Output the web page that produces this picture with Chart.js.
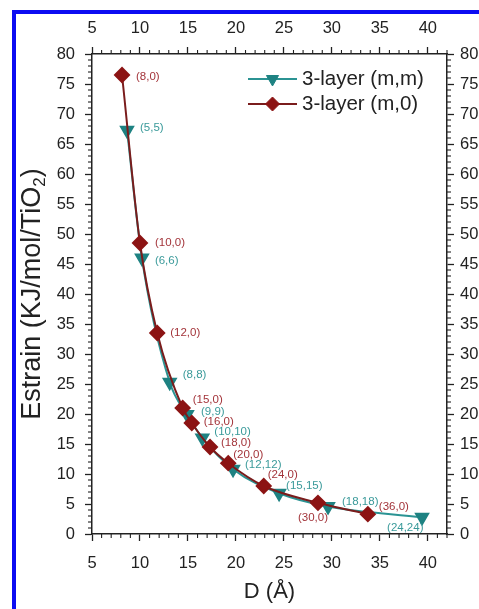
<!DOCTYPE html>
<html>
<head>
<meta charset="utf-8">
<script src="https://cdn.jsdelivr.net/npm/chart.js@4.4.1/dist/chart.umd.min.js"></script>
<style>
  html, body { margin: 0; padding: 0; background: #fff; overflow: hidden; }
  #wrap { position: relative; width: 479px; height: 609px; }
  canvas { position: absolute; left: 0; top: 0; }
  #frame { position: absolute; left: 12px; top: 10px; width: 480px; height: 620px;
           border-top: 4px solid #0c0cf2; border-left: 4px solid #0c0cf2; pointer-events: none; }
</style>
</head>
<body>
<div id="wrap">
  <canvas id="c" width="479" height="609"></canvas>
  <div id="frame"></div>
</div>
<script>
// 3-layer (m,m) nanotubes
const mmLabels = ['(5,5)', '(6,6)', '(8,8)', '(9,9)', '(10,10)', '(12,12)', '(15,15)', '(18,18)', '(24,24)'];
const mmD = [8.65, 10.2, 13.1, 14.9, 16.5, 19.7, 24.5, 29.6, 39.4];
const mmE = [67.3, 46.0, 25.3, 19.9, 16.0, 10.8, 6.8, 4.6, 2.8];

// 3-layer (m,0) nanotubes
const m0Labels = ['(8,0)', '(10,0)', '(12,0)', '(15,0)', '(16,0)', '(18,0)', '(20,0)', '(24,0)', '(30,0)', '(36,0)'];
const m0D = [8.13, 10.0, 11.8, 14.45, 15.4, 17.3, 19.2, 22.9, 28.55, 33.75];
const m0E = [76.5, 48.5, 33.5, 21.0, 18.5, 14.5, 11.8, 8.0, 5.2, 3.3];

const seriesNames = ['3-layer (m,m)', '3-layer (m,0)'];
const xRange = [5, 42];
const yRange = [0, 80];

const FONT = 'Arial, "Liberation Sans", sans-serif';
const INK = '#222';

// label offsets from the marker (px), same order as the label arrays
const mmOffsets = [[13, -2], [13, 3], [13, -7], [14, -3], [12, -6], [12, -4], [7, -7], [14, -5], [-35, 11]];
const m0Offsets = [[14, 2], [15, 0], [13, 0], [10, -8], [12, -1], [11, -4], [5, -8], [4, -11], [-20, 15], [11, -7]];

function pts(xs, ys) {
  return xs.map((x, i) => ({ x, y: ys[i] }));
}

function axis(position, range, fitSize, pad) {
  const horizontal = position === 'top' || position === 'bottom';
  return {
    type: 'linear',
    position,
    min: range[0],
    max: range[1],
    ticks: { stepSize: 5, includeBounds: false, color: INK, font: { family: FONT, size: 16.5 }, padding: pad },
    grid: { drawOnChartArea: false, tickLength: 7, tickColor: INK, tickWidth: 1.3 },
    border: { display: true, color: INK, width: 1.5 },
    afterBuildTicks(s) { s.ticks = s.ticks.filter(t => t.value % 5 === 0); },
    afterFit(s) { if (horizontal) s.height = fitSize; else s.width = fitSize; },
  };
}

const extras = {
  id: 'extras',
  afterDraw(chart) {
    const ctx = chart.ctx;
    const a = chart.chartArea;
    ctx.save();

    // minor ticks every 1 unit
    ctx.strokeStyle = INK;
    ctx.lineWidth = 1.1;
    ['x', 'x2', 'y', 'y2'].forEach(id => {
      const s = chart.scales[id];
      for (let v = Math.ceil(s.min); v <= s.max; v++) {
        if (v % 5 === 0) continue;
        const p = s.getPixelForValue(v);
        ctx.beginPath();
        if (id === 'x') { ctx.moveTo(p, a.bottom); ctx.lineTo(p, a.bottom + 4); }
        if (id === 'x2') { ctx.moveTo(p, a.top); ctx.lineTo(p, a.top - 4); }
        if (id === 'y') { ctx.moveTo(a.left, p); ctx.lineTo(a.left - 4, p); }
        if (id === 'y2') { ctx.moveTo(a.right, p); ctx.lineTo(a.right + 4, p); }
        ctx.stroke();
      }
    });

    // point labels
    ctx.font = '11.5px ' + FONT;
    ctx.textAlign = 'left';
    ctx.textBaseline = 'middle';
    const sets = [[mmLabels, mmOffsets, '#3a9a9a'], [m0Labels, m0Offsets, '#a3343a']];
    sets.forEach(([labels, offs, col], di) => {
      const meta = chart.getDatasetMeta(di);
      ctx.fillStyle = col;
      meta.data.forEach((el, j) => {
        ctx.fillText(labels[j], el.x + offs[j][0], el.y + offs[j][1]);
      });
    });

    // legend
    const rows = [79, 104];
    chart.data.datasets.forEach((ds, i) => {
      const y = rows[i];
      ctx.strokeStyle = ds.borderColor;
      ctx.lineWidth = 2;
      ctx.beginPath();
      ctx.moveTo(248, y);
      ctx.lineTo(297, y);
      ctx.stroke();
      ctx.fillStyle = ds.pointBackgroundColor;
      ctx.strokeStyle = ds.pointBorderColor;
      ctx.lineWidth = 1;
      Chart.helpers.drawPoint(ctx, { pointStyle: ds.pointStyle, rotation: ds.pointRotation || 0, radius: ds.pointRadius, borderWidth: 1 }, 272.5, y);
      ctx.fillStyle = INK;
      ctx.font = '20.5px ' + FONT;
      ctx.textAlign = 'left';
      ctx.textBaseline = 'middle';
      ctx.fillText(seriesNames[i], 302, y);
    });

    // x title
    ctx.fillStyle = INK;
    ctx.font = '22px ' + FONT;
    ctx.textAlign = 'center';
    ctx.textBaseline = 'middle';
    ctx.fillText('D (\u00c5)', (a.left + a.right) / 2, 592);

    // y title with subscript
    ctx.translate(31, (a.top + a.bottom) / 2);
    ctx.rotate(-Math.PI / 2);
    ctx.textAlign = 'left';
    ctx.textBaseline = 'alphabetic';
    const p1 = 'Estrain (KJ/mol/TiO', p2 = '2', p3 = ')';
    ctx.font = '27px ' + FONT;
    const w1 = ctx.measureText(p1).width, w3 = ctx.measureText(p3).width;
    ctx.font = '17px ' + FONT;
    const w2 = ctx.measureText(p2).width;
    let x0 = -(w1 + w2 + w3) / 2;
    ctx.font = '27px ' + FONT;
    ctx.fillText(p1, x0, 9);
    ctx.font = '17px ' + FONT;
    ctx.fillText(p2, x0 + w1, 14);
    ctx.font = '27px ' + FONT;
    ctx.fillText(p3, x0 + w1 + w2, 9);

    ctx.restore();
  }
};

new Chart(document.getElementById('c'), {
  type: 'scatter',
  data: {
    datasets: [
      {
        label: seriesNames[0],
        data: pts(mmD, mmE),
        showLine: true,
        order: 1,
        borderColor: '#2b9393',
        borderWidth: 2,
        cubicInterpolationMode: 'monotone',
        pointStyle: 'triangle',
        pointRotation: 180,
        pointRadius: 7,
        pointBackgroundColor: '#1e8282',
        pointBorderColor: '#1e8282',
      },
      {
        label: seriesNames[1],
        data: pts(m0D, m0E),
        showLine: true,
        order: 0,
        borderColor: '#7a1c1c',
        borderWidth: 2,
        cubicInterpolationMode: 'monotone',
        pointStyle: 'rectRot',
        pointRadius: 7,
        pointBackgroundColor: '#8c1414',
        pointBorderColor: '#8c1414',
      },
    ],
  },
  options: {
    responsive: false,
    animation: false,
    layout: { padding: 0 },
    plugins: { legend: { display: false }, tooltip: { enabled: false } },
    scales: {
      x: axis('bottom', xRange, 75, 13),
      x2: axis('top', xRange, 54, 9),
      y: axis('left', yRange, 92, 10),
      y2: axis('right', yRange, 32, 6),
    },
  },
  plugins: [extras],
});
</script>
</body>
</html>
